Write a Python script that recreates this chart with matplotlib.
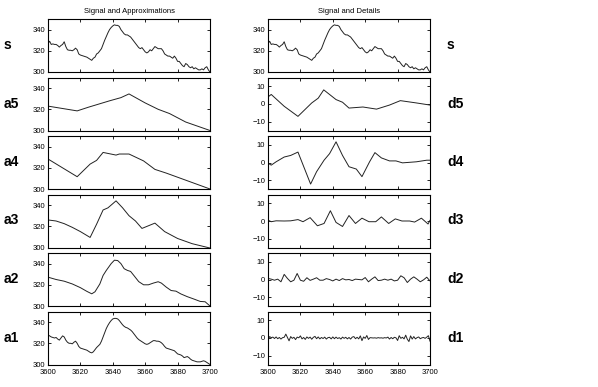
import matplotlib
matplotlib.use("Agg")
import matplotlib.pyplot as plt
import numpy as np

plt.rcParams['font.family'] = ['Liberation Sans', 'DejaVu Sans']

# signal samples 3600..3700
t = np.arange(3600, 3701)
s = [327, 329, 326, 326.5, 326, 326, 325, 323.5, 325, 326,
     328.5, 324, 321, 320.5, 320.5, 320, 321, 322.5, 321, 317,
     316, 315.5, 315, 314.5, 314, 313, 312, 311, 313, 314,
     317, 318, 320, 322, 326, 330, 333.5, 337, 340, 342,
     343.5, 344.5, 344, 344, 343, 340, 338, 336, 335, 335,
     334, 333, 331, 329, 327, 325, 323, 322, 323, 321,
     319, 318, 319, 321, 320, 322, 324, 323, 322, 322,
     322, 320, 317, 316, 315, 315, 314, 313, 315, 313,
     310, 310, 308, 306, 305, 308, 307, 305, 304, 305,
     303, 304, 303, 302, 302, 303, 302, 304, 305, 302,
     300]

a1 = [328, 327, 326, 325.5, 325, 325.5, 324, 323, 325, 327,
      326, 323, 321, 320, 320, 319.5, 321, 322, 320, 317,
      315.5, 315, 314.5, 314, 313.5, 312.5, 311.5, 311, 312, 314,
      316, 317.5, 319, 322, 326, 330, 334, 337, 339.5, 341.5,
      343, 343.5, 343.5, 343, 341.5, 339.5, 337.5, 336, 335, 334.5,
      333.5, 332.5, 331, 329, 327, 325, 323.5, 322.5, 321.5, 320.5,
      319.5, 319, 319.5, 320.5, 321.5, 322.5, 322.5, 322, 322, 321.5,
      320.5, 319, 317, 315.5, 315, 314.5, 314, 313.5, 313, 311.5,
      310, 309.5, 309, 308, 306.5, 307, 307.5, 306.5, 305, 304,
      303.5, 303, 302.5, 302.5, 302.5, 303, 303.5, 303, 302, 301,
      300]

a2_t = [3600, 3605, 3610, 3615, 3620, 3624, 3627, 3629, 3632, 3634, 3636,
        3639, 3641, 3643, 3645, 3647, 3649, 3651, 3653, 3656, 3659, 3662,
        3665, 3668, 3670, 3673, 3676, 3679, 3682, 3686, 3690, 3694, 3697, 3700]
a2 = [327.2, 325, 323.4, 320.8, 317.3, 313.8, 311.5, 313.4, 320.8, 328.8, 333.6,
      340, 343.2, 342.9, 340, 335.2, 333.6, 332.6, 328.8, 323, 320, 320,
      321.6, 322.9, 321.6, 317.8, 314.6, 314, 311.4, 308.8, 306.6, 304.3, 304, 300]

a3_t = [3600, 3605, 3610, 3615, 3620, 3626, 3630, 3634, 3637, 3642, 3646,
        3650, 3654, 3658, 3662, 3666, 3672, 3680, 3689, 3700]
a3 = [326, 325, 322.5, 319, 315, 309.5, 322, 335.4, 337.4, 344, 337.5,
      330, 325, 318, 320.5, 323, 315, 308.5, 303.6, 299.5]

a4_t = [3600, 3618, 3626, 3630, 3634, 3642, 3644, 3650, 3659, 3666, 3673, 3700]
a4 = [328.3, 311.6, 323.5, 327, 334.5, 332, 333, 333, 326.5, 318.5, 315, 300]

a5_t = [3600, 3606, 3618, 3625, 3638, 3645, 3650, 3660, 3668, 3675, 3680, 3685, 3700]
a5 = [323, 321.5, 318.5, 322, 328, 331, 334.5, 326, 320, 316, 312, 308, 300]

d5_t = [3600, 3602, 3610, 3618.5, 3627, 3631, 3634.4, 3642, 3646, 3650,
        3658.6, 3667, 3675, 3681.7, 3691.6, 3700]
d5 = [4, 5.4, -1.3, -7, 0.6, 3.3, 8, 2.5, 1, -2.3,
      -1.7, -2.9, -0.6, 1.9, 0.6, -0.6]

d4_t = [3600, 3602, 3605, 3610, 3614, 3618.5, 3626.3, 3630, 3634.6, 3638, 3642,
        3646, 3650, 3654.5, 3658, 3662.7, 3666, 3670, 3675, 3679, 3683, 3691.6, 3698, 3700]
d4 = [-0.4, -1.5, 0.4, 3.1, 4, 5.9, -12.2, -5.2, 1.3, 5, 11.7,
      4, -2.4, -3.7, -8, 0.4, 5.6, 2.6, 0.9, 0.9, -0.2, 0.4, 1.3, 1.3]

d3_t = [3600, 3602, 3605, 3610, 3614, 3618.5, 3621.6, 3626, 3630.5, 3634.6, 3638.5,
        3642, 3646, 3650, 3654, 3658, 3662.3, 3666.5, 3670, 3674.5, 3678.6,
        3682.7, 3687.4, 3690.5, 3694.7, 3698.8, 3700]
d3 = [0.5, -0.4, 0.1, 0, 0.1, 0.8, -0.4, 1.9, -2.7, -1.4, 5.8,
      -0.8, -3.1, 3.1, -1.4, 1.6, -0.4, -0.4, 2.3, -1.4, 1.2,
      0, 0, -0.6, 1.6, -1.7, 0.4]

d2_t = np.arange(3600, 3701, 2)
d2 = [0.6, 0.2, -0.4, 0.2, -1.3, 2.9, 0.6, -1.3, -0.4, 3.4,
      -0.4, -1.0, 1.0, -0.5, 0.2, 1.0, -0.4, -0.4, 0.5, 0,
      -0.8, 0.2, -0.6, 0.5, -0.2, 0, -0.6, 0.2, 0, -0.2,
      1.1, -1.3, 0.2, 1.5, -0.6, -0.4, 0.2, -0.4, 0.2, -0.8,
      -0.4, 2.1, 1.0, -1.7, 0.2, 1.5, 0.2, -1.3, -0.2, 1.3,
      -0.8]

d1 = [-1.5, 0.8, 0.2, 0.5, -0.3, 0.6, -0.4, 0.3, -0.6, 0.2,
      0.4, 2.2, 0.3, -1.6, 0.8, -0.2, 0.4, -0.9, 0.5, 0.1,
      1.2, -0.5, 0.3, -0.8, 0.6, -0.2, 0.5, -0.7, 0.4, 0.9,
      -0.4, 0.6, -0.5, 0.3, -0.3, 0.5, -0.6, 0.2, 0.4, -0.5,
      0.6, -0.4, 0.5, -0.3, 0.2, -0.6, 0.5, -0.2, 0.4, -0.5,
      0.3, -0.6, 0.5, 0.8, -0.4, 0.4, -0.5, 1.2, -1.5, 0.6,
      -0.2, 1.4, -0.8, 0.2, 0.1, 0.0, 0.1, -0.1, 0.2, 0.0,
      0.1, -0.1, 0.2, 0.0, 0.5, -0.6, 0.3, -0.4, 0.4, 0.1,
      -1.4, 1.3, -0.2, 0.4, -0.5, 1.6, -0.7, -2.0, 1.2, -0.6,
      0.8, -0.5, 0.2, 0.6, -0.4, 0.1, 0.3, -0.2, 0.5, 1.3,
      -1.8]

left_rows = [("s", t, s), ("a5", a5_t, a5), ("a4", a4_t, a4),
             ("a3", a3_t, a3), ("a2", a2_t, a2), ("a1", t, a1)]
right_rows = [("s", t, s), ("d5", d5_t, d5), ("d4", d4_t, d4),
              ("d3", d3_t, d3), ("d2", d2_t, d2), ("d1", t, d1)]

W, H = 598.0, 387.0
fig = plt.figure(figsize=(5.98, 3.87), dpi=100)


def make_ax(px_left, px_top):
    ax = fig.add_axes([px_left / W, 1 - (px_top + 53) / H, 162 / W, 53 / H])
    ax.set_xlim(3600, 3700)
    ax.set_xticks(np.arange(3600, 3701, 20))
    ax.tick_params(direction='in', length=2.5, width=0.6, labelsize=5.5,
                   top=True, right=True, pad=2)
    ax.tick_params(axis='x', pad=3.5)
    for sp in ax.spines.values():
        sp.set_linewidth(0.8)
    return ax


for i in range(6):
    top = 19 + 58.5 * i
    # approximations column
    name, x, y = left_rows[i]
    ax = make_ax(48, top)
    ax.plot(x, y, color='#222222', lw=0.7)
    ax.set_ylim(300, 350)
    ax.set_yticks([300, 320, 340])
    if i < 5:
        ax.set_xticklabels([])
    if i == 0:
        ax.set_title("Signal and Approximations", fontsize=5.5, pad=4)
    fig.text(4 / W, 1 - (top + 26) / H, name, fontsize=10, fontweight='bold',
             ha='left', va='center')

    # details column
    name, x, y = right_rows[i]
    ax = make_ax(268, top)
    ax.plot(x, y, color='#222222', lw=0.7)
    if i == 0:
        ax.set_ylim(300, 350)
        ax.set_yticks([300, 320, 340])
        ax.set_title("Signal and Details", fontsize=5.5, pad=4)
    else:
        ax.set_ylim(-15, 15)
        ax.set_yticks([-10, 0, 10])
    if i < 5:
        ax.set_xticklabels([])
    fig.text(447 / W, 1 - (top + 26) / H, name, fontsize=10, fontweight='bold',
             ha='left', va='center')

fig.savefig("out.png", dpi=100)
